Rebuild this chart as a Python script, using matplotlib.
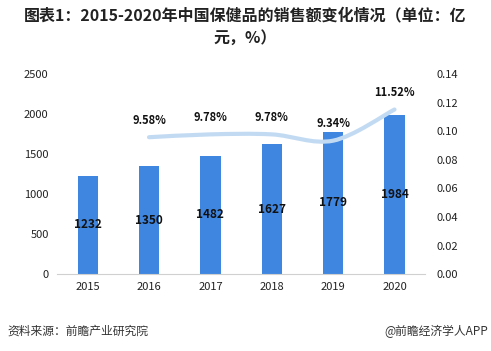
import numpy as np
import matplotlib.pyplot as plt
from matplotlib.path import Path
from matplotlib.patches import PathPatch

plt.rcParams['font.family'] = ['Noto Sans CJK SC', 'DejaVu Sans']

years = ['2015', '2016', '2017', '2018', '2019', '2020']
sales = [1232, 1350, 1482, 1627, 1779, 1984]
growth = [None, 0.0958, 0.0978, 0.0978, 0.0934, 0.1152]
growth_labels = ['', '9.58%', '9.78%', '9.78%', '9.34%', '11.52%']

bar_color = '#3f86e0'
line_color = '#c2dbf3'

fig = plt.figure(figsize=(4.91, 3.51), dpi=100)
ax = fig.add_axes([0.116, 0.219, 0.75, 0.570])
x = np.arange(len(years))
ax.bar(x, sales, width=0.33, color=bar_color, zorder=2)
ax.set_ylim(0, 2500)
ax.set_yticks(range(0, 2501, 500))
ax.set_xlim(-0.5, len(years) - 0.5)
ax.set_xticks(x)
ax.set_xticklabels(years)
for s in ['top', 'left', 'right']:
    ax.spines[s].set_visible(False)
ax.spines['bottom'].set_color('#d0d0d0')
ax.tick_params(length=0, labelsize=8, colors='#222222', pad=6)

for xi, v in zip(x, sales):
    ax.text(xi, v / 2, str(v), ha='center', va='center', fontsize=8.5,
            fontweight='bold', color='#111111', zorder=4)

ax2 = ax.twinx()
ax2.set_ylim(0, 0.14)
ax2.set_yticks(np.arange(0, 0.141, 0.02))
ax2.set_yticklabels(['%.2f' % t for t in np.arange(0, 0.141, 0.02)])
for s in ax2.spines.values():
    s.set_visible(False)
ax2.tick_params(length=0, labelsize=8, colors='#222222', pad=8)

# smooth curve through growth points (Catmull-Rom -> cubic Bezier)
gx = [xi for xi, g in zip(x, growth) if g is not None]
gy = [g for g in growth if g is not None]
pts = list(zip(gx, gy))
verts = [pts[0]]
codes = [Path.MOVETO]
for i in range(len(pts) - 1):
    p0 = pts[i - 1] if i > 0 else pts[i]
    p1 = pts[i]
    p2 = pts[i + 1]
    p3 = pts[i + 2] if i + 2 < len(pts) else pts[i + 1]
    c1 = (p1[0] + (p2[0] - p0[0]) / 6, p1[1] + (p2[1] - p0[1]) / 6)
    c2 = (p2[0] - (p3[0] - p1[0]) / 6, p2[1] - (p3[1] - p1[1]) / 6)
    verts += [c1, c2, p2]
    codes += [Path.CURVE4] * 3
ax2.add_patch(PathPatch(Path(verts, codes), fill=False, edgecolor=line_color,
                        lw=3, capstyle='round', zorder=3))

for xi, g, lab in zip(x, growth, growth_labels):
    if g is None:
        continue
    ax2.annotate(lab, (xi, g), xytext=(0, 12), textcoords='offset points',
                 ha='center', va='center', fontsize=8, fontweight='bold',
                 color='#111111')

fig.text(0.5, 0.957, '图表1：2015-2020年中国保健品的销售额变化情况（单位：亿',
         ha='center', va='center', fontsize=11.5, fontweight='bold', color='#222222')
fig.text(0.5, 0.893, '元，%）', ha='center', va='center', fontsize=11.5,
         fontweight='bold', color='#222222')
fig.text(0.015, 0.057, '资料来源：前瞻产业研究院', ha='left', va='center',
         fontsize=8.5, color='#333333')
fig.text(0.995, 0.057, '@前瞻经济学人APP', ha='right', va='center',
         fontsize=8.5, color='#333333')

fig.savefig('out.png', dpi=100)
